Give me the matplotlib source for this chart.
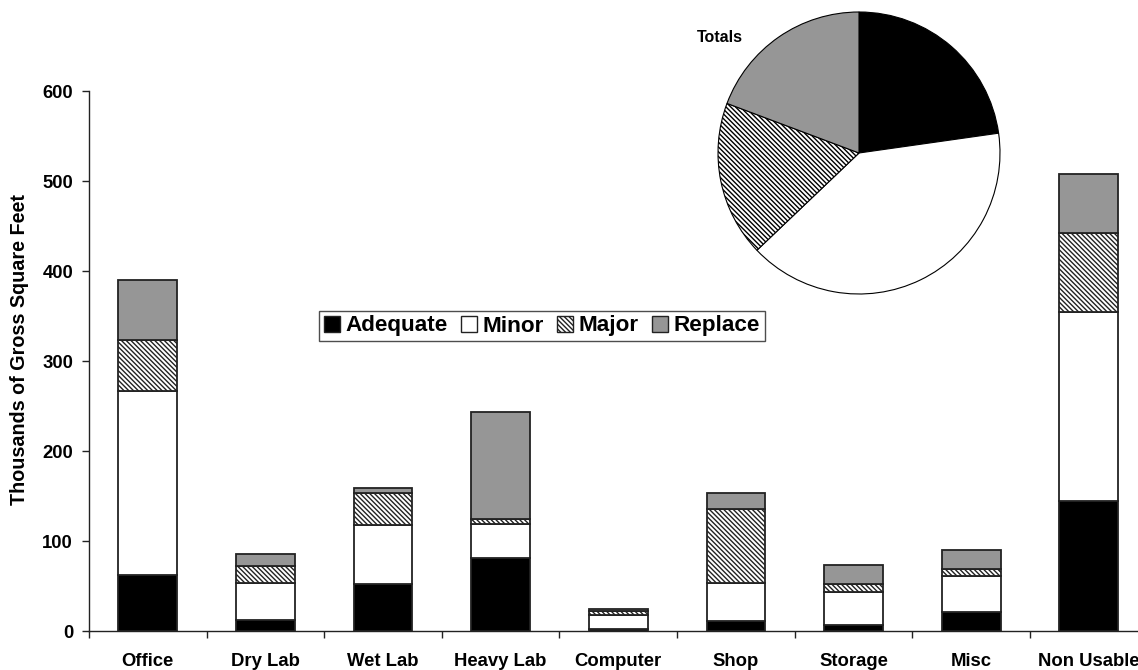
import numpy as np
import matplotlib
matplotlib.use("Agg")
import matplotlib.pyplot as plt
from matplotlib.patches import Patch

plt.rcParams["font.family"] = ["Liberation Sans", "DejaVu Sans"]
plt.rcParams["font.weight"] = "bold"
plt.rcParams["hatch.linewidth"] = 1.0

# space by building use and condition, thousands of gross square feet
categories = ["Office", "Dry Lab", "Wet Lab", "Heavy Lab", "Computer",
              "Shop", "Storage", "Misc", "Non Usable"]
adequate = [62, 12, 52, 81, 2, 11, 7, 21, 145]
minor = [205, 41, 66, 38, 16, 42, 36, 40, 209]
major = [56, 19, 35, 6, 4, 83, 9, 8, 88]
replace = [67, 14, 6, 118, 3, 17, 21, 21, 66]

series_names = ["Adequate", "Minor", "Major", "Replace"]
yticks = [0, 100, 200, 300, 400, 500, 600]

styles = {
    "Adequate": dict(facecolor="black", hatch=None),
    "Minor": dict(facecolor="white", hatch=None),
    "Major": dict(facecolor="white", hatch="\\" * 7),
    "Replace": dict(facecolor="#969696", hatch=None),
}
edge = "#222222"

fig = plt.figure(figsize=(11.38, 6.70), dpi=100)
ax = fig.add_axes([89 / 1138, 39 / 670, 1058.6 / 1138, 540 / 670])

x = np.arange(len(categories))
bottom = np.zeros(len(categories))
for name, vals in zip(series_names, [adequate, minor, major, replace]):
    st = styles[name]
    ax.bar(x, vals, width=0.5, bottom=bottom, facecolor=st["facecolor"],
           hatch=st["hatch"], edgecolor=edge, linewidth=1.3, label=name)
    bottom += np.array(vals)

ax.set_xlim(-0.5, len(categories) - 0.5)
ax.set_ylim(0, 600)
ax.set_yticks(yticks)
ax.set_xticks(x)
ax.set_xticklabels(categories, fontsize=13.3, fontweight="bold")
ax.set_xticks(np.arange(len(categories) + 1) - 0.5, minor=True)
ax.tick_params(axis="x", which="major", length=0, pad=16)
ax.tick_params(axis="x", which="minor", length=5, width=1, direction="out",
               color=edge)
ax.tick_params(axis="y", length=5, width=1, pad=6.5, labelsize=13.3,
               color=edge)
for lbl in ax.get_yticklabels():
    lbl.set_fontweight("bold")

for s in ["top", "right"]:
    ax.spines[s].set_visible(False)
for s in ["left", "bottom"]:
    ax.spines[s].set_color(edge)
    ax.spines[s].set_linewidth(1.0)

fig.text(20 / 1138, 1 - 350 / 670, "Thousands of Gross Square Feet",
         rotation=90, ha="center", va="center", fontsize=14.2,
         fontweight="bold")

# legend across the middle of the plot
handles = [Patch(facecolor=styles[n]["facecolor"], hatch=styles[n]["hatch"],
                 edgecolor=edge, linewidth=1.0, label=n) for n in series_names]
leg = fig.legend(handles=handles, loc="center", ncol=4,
                 bbox_to_anchor=(542 / 1138, 1 - 326 / 670),
                 fontsize=16.2, frameon=True, fancybox=False,
                 handlelength=0.7, handleheight=0.7, handletextpad=0.25,
                 columnspacing=0.6, borderpad=0.22, borderaxespad=0)
leg.get_frame().set_edgecolor(edge)
leg.get_frame().set_linewidth(1.0)
for t in leg.get_texts():
    t.set_fontweight("bold")

# pie of totals across all building uses
totals = [sum(adequate), sum(minor), sum(major), sum(replace)]
r = 141
pax = fig.add_axes([(859 - r - 2) / 1138, 1 - (153 + r + 2) / 670,
                    (2 * r + 4) / 1138, (2 * r + 4) / 670])
wedges, _ = pax.pie(totals, startangle=90, counterclock=False,
                    colors=[styles[n]["facecolor"] for n in series_names],
                    wedgeprops=dict(edgecolor="black", linewidth=0.8))
for w, n in zip(wedges, series_names):
    if styles[n]["hatch"]:
        w.set_hatch(styles[n]["hatch"])
lim = (r + 2) / r
pax.set_xlim(-lim, lim)
pax.set_ylim(-lim, lim)
pax.set_aspect("equal")

fig.text(697 / 1138, 1 - 38 / 670, "Totals", ha="left", va="center",
         fontsize=11.5, fontweight="bold")

fig.savefig("out.png", dpi=100)
